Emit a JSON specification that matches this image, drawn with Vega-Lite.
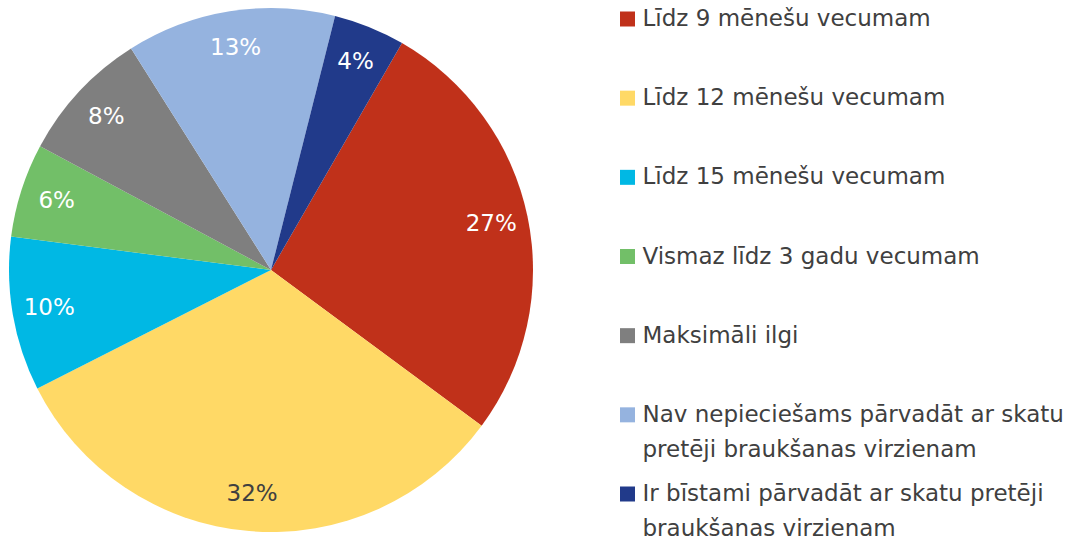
{
  "$schema": "https://vega.github.io/schema/vega-lite/v6.json",
  "padding": 0,
  "background": "white",
  "spacing": 78,
  "config": {"view": {"stroke": null}, "font": "DejaVu Sans"},
  "data": {
    "values": [
      {"cat": "Līdz 9 mēnešu vecumam", "value": 26.8, "label": "27%", "ord": 1},
      {"cat": "Līdz 12 mēnešu vecumam", "value": 32.4, "label": "32%", "ord": 2},
      {"cat": "Līdz 15 mēnešu vecumam", "value": 9.5, "label": "10%", "ord": 3},
      {"cat": "Vismaz līdz 3 gadu vecumam", "value": 5.8, "label": "6%", "ord": 4},
      {"cat": "Maksimāli ilgi", "value": 8.2, "label": "8%", "ord": 5},
      {"cat": "Nav nepieciešams pārvadāt ar skatu\npretēji braukšanas virzienam", "value": 12.9, "label": "13%", "ord": 6},
      {"cat": "Ir bīstami pārvadāt ar skatu pretēji\nbraukšanas virzienam", "value": 4.4, "label": "4%", "ord": 7}
    ]
  },
  "hconcat": [
    {
      "width": 542,
      "height": 540,
      "encoding": {
        "theta": {"field": "value", "type": "quantitative", "stack": true, "scale": {"range": [0.5236, 6.8068]}},
        "order": {"field": "ord", "type": "quantitative"}
      },
      "layer": [
        {
          "mark": {"type": "arc", "radius": 262},
          "encoding": {
            "color": {
              "field": "cat", "type": "nominal",
              "scale": {
                "domain": ["Līdz 9 mēnešu vecumam", "Līdz 12 mēnešu vecumam", "Līdz 15 mēnešu vecumam", "Vismaz līdz 3 gadu vecumam", "Maksimāli ilgi", "Nav nepieciešams pārvadāt ar skatu\npretēji braukšanas virzienam", "Ir bīstami pārvadāt ar skatu pretēji\nbraukšanas virzienam"],
                "range": ["#C0311A", "#FFD966", "#00B8E4", "#72BF68", "#7F7F7F", "#95B3DF", "#213A8A"]
              },
              "legend": null
            }
          }
        },
        {
          "mark": {"type": "text", "radius": 225, "fontSize": 23, "font": "DejaVu Sans"},
          "encoding": {
            "text": {"field": "label"},
            "color": {
              "condition": {"test": "datum.ord == 2", "value": "#404040"},
              "value": "white"
            }
          }
        }
      ]
    },
    {
      "width": 440,
      "height": 540,
      "encoding": {
        "x": {"datum": 0, "type": "quantitative", "scale": {"domain": [0, 1], "range": [7.5, 440]}, "axis": null},
        "y": {"field": "cat", "type": "ordinal", "sort": {"field": "ord"}, "scale": {"type": "point", "padding": 0, "range": [19, 494]}, "axis": null}
      },
      "layer": [
        {
          "mark": {"type": "square", "size": 225, "filled": true, "opacity": 1},
          "encoding": {
            "color": {"field": "cat", "type": "nominal", "legend": null}
          }
        },
        {
          "mark": {"type": "text", "align": "left", "baseline": "middle", "dx": 15, "fontSize": 23, "font": "DejaVu Sans", "color": "#404040", "lineBreak": "\n", "lineHeight": 35},
          "encoding": {
            "text": {"field": "cat"}
          }
        }
      ]
    }
  ]
}
